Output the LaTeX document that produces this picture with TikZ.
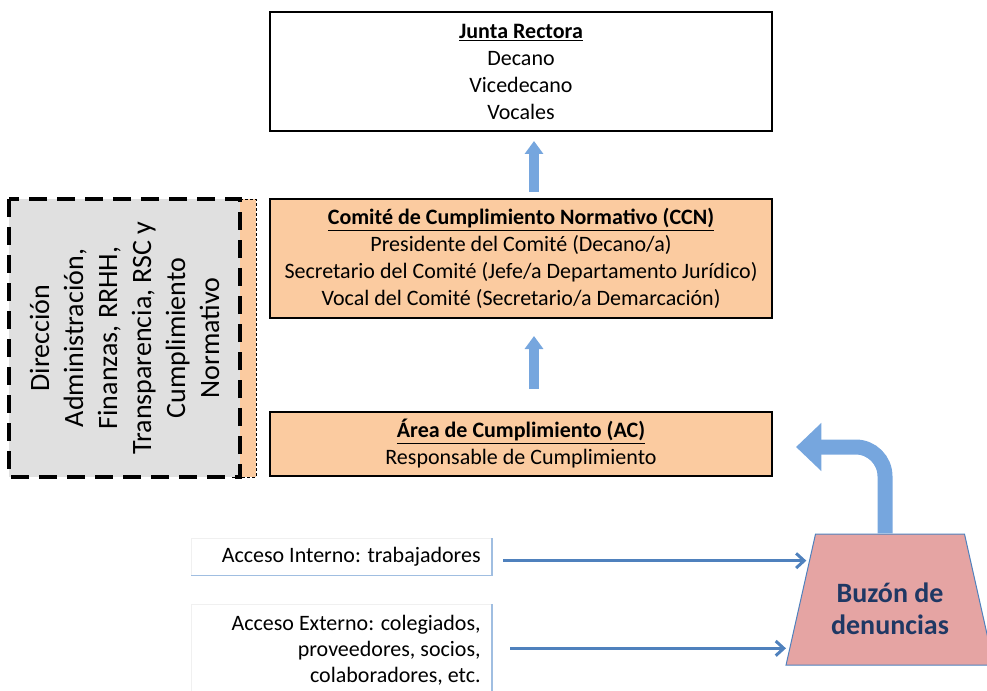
\documentclass[tikz,border=0pt]{standalone}
\usepackage{fontspec}
\setmainfont{Carlito}
\usetikzlibrary{shapes.geometric, arrows.meta, calc}
\definecolor{boxorange}{RGB}{251,203,160}
\definecolor{dirgray}{RGB}{224,224,224}
\definecolor{buzonfill}{RGB}{229,164,163}
\definecolor{buzontext}{RGB}{31,56,100}
\definecolor{linkblue}{RGB}{79,129,189}
\definecolor{blockblue}{RGB}{118,166,222}
\definecolor{edgeblue}{RGB}{160,190,225}

\begin{document}
\begin{tikzpicture}[
    x=0.75pt, y=-0.75pt,
    organ/.style={draw, line width=1.5pt, fill=#1, minimum width=376.5pt, align=center, font=\fontsize{16.5}{20.25}\selectfont},
    dirbox/.style={draw, line width=2.6pt, dash pattern=on 13.5pt off 7.5pt, fill=dirgray, rotate=90, minimum width=208.5pt, minimum height=173.25pt, align=center, font=\fontsize{21}{25.5}\selectfont},
    strip/.style={draw, line width=0.6pt, dash pattern=on 2.25pt off 1.5pt, fill=boxorange, minimum width=18pt, minimum height=208.5pt},
    access/.style={draw=black!6, line width=0.5pt, fill=white, minimum width=225pt, text width=208.5pt, inner xsep=8.25pt, align=flush right, anchor=north east, font=\fontsize{16.5}{19.5}\selectfont},
    accedge/.style={draw=edgeblue, line width=0.8pt},
    buzon/.style={trapezium, trapezium stretches=true, trapezium angle=78.8, minimum width=156pt, minimum height=98.25pt, inner sep=2pt, draw=linkblue, line width=0.75pt, fill=buzonfill},
    uparrow/.style={draw=blockblue, line width=7.5pt, -{Triangle[width=13.5pt,length=9.75pt]}},
    bentarrow/.style={draw=blockblue, line width=11.25pt, rounded corners=22pt, -{Triangle[width=35pt,length=19pt]}},
    linkarrow/.style={draw=linkblue, line width=2.25pt, -{Straight Barb[length=6pt,width=11pt]}}
]
    \useasboundingbox (0,0) rectangle (987,691);

    % Governing bodies
    \node[organ=white, minimum height=89.25pt] (jr) at (521,71.5) {\underline{\textbf{Junta Rectora}}\\Decano\\Vicedecano\\Vocales};
    \node[organ=boxorange, minimum height=89.25pt] (ccn) at (521,258.5) {\underline{\textbf{Comité de Cumplimiento Normativo (CCN)}}\\Presidente del Comité (Decano/a)\\Secretario del Comité (Jefe/a Departamento Jurídico)\\Vocal del Comité (Secretario/a Demarcación)};
    \node[organ=boxorange, minimum height=48pt] (ac) at (521,444) {\underline{\textbf{Área de Cumplimiento (AC)}}\\Responsable de Cumplimiento};

    % Direction box on the left
    \node[strip] (strip) at (244,338) {};
    \node[dirbox] (dir) at (124.5,338) {Dirección\\Administración,\\Finanzas, RRHH,\\Transparencia, RSC y\\Cumplimiento\\Normativo};

    % Reporting arrows
    \draw[uparrow, shorten <=4.5pt, shorten >=6.75pt] ([xshift=9.75pt]ccn.north) -- ([xshift=9.75pt]jr.south);
    \draw[uparrow, shorten <=16.5pt, shorten >=12.75pt] ([xshift=9.75pt]ac.north) -- ([xshift=9.75pt]ccn.south);

    % Whistleblowing channel
    \node[buzon] (buzon) at (890,599.5) {};
    \node[font=\fontsize{21}{24}\selectfont\bfseries, text=buzontext, align=center] (buzontxt) at ([yshift=-7pt]buzon.center) {Buzón de\\denuncias};
    \draw[bentarrow, shorten >=17.25pt] ([xshift=-3.75pt]buzon.north) |- ([yshift=-2.25pt]ac.east);

    % Access points
    \node[access, minimum height=27.75pt] (ai) at (492,538) {Acceso Interno: trabajadores};
    \node[access, minimum height=69pt] (ae) at (492,604) {Acceso Externo: colegiados,\\proveedores, socios,\\colaboradores, etc.};
    \draw[accedge] (ai.north east) -- (ai.south east) -- (ai.south west);
    \draw[accedge] (ae.north east) -- (ae.south east);

    \coordinate (in1) at ($(buzon.top left corner)!0.206!(buzon.bottom left corner)$);
    \coordinate (in2) at ($(buzon.top left corner)!0.87!(buzon.bottom left corner)$);
    \draw[linkarrow, shorten <=8.25pt, shorten >=2pt] (ai.east |- in1) -- (in1);
    \draw[linkarrow, shorten <=13.5pt, shorten >=2.5pt] (ae.east |- in2) -- (in2);
\end{tikzpicture}
\end{document}
